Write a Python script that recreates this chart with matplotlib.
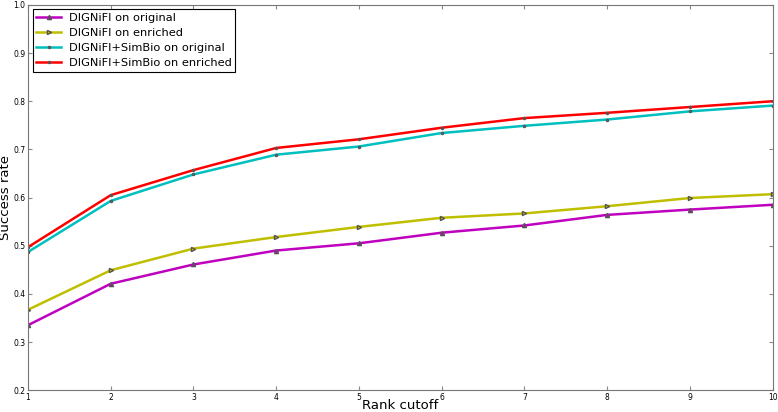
import matplotlib
matplotlib.use('Agg')
import matplotlib.pyplot as plt

# Rank cutoff values
ranks = [1, 2, 3, 4, 5, 6, 7, 8, 9, 10]

# success rates
dignifi_orig = [0.335, 0.421, 0.461, 0.490, 0.505, 0.527, 0.542, 0.564, 0.575, 0.585]
dignifi_enr = [0.367, 0.449, 0.494, 0.518, 0.539, 0.558, 0.567, 0.582, 0.599, 0.607]
simbio_orig = [0.487, 0.593, 0.648, 0.689, 0.706, 0.734, 0.749, 0.762, 0.779, 0.791]
simbio_enr = [0.497, 0.605, 0.657, 0.703, 0.721, 0.745, 0.765, 0.776, 0.788, 0.800]

labels = ['DIGNiFI on original', 'DIGNiFI on enriched',
          'DIGNiFI+SimBio on original', 'DIGNiFI+SimBio on enriched']

fig = plt.figure(figsize=(7.78, 4.12), dpi=100)
ax = fig.add_axes([0.036, 0.053, 0.957, 0.935])

ax.plot(ranks, dignifi_orig, color='m', lw=1.8, marker='^', ms=3, mec='#555555', label=labels[0])
ax.plot(ranks, dignifi_enr, color='y', lw=1.8, marker='>', ms=3, mec='#555555', label=labels[1])
ax.plot(ranks, simbio_orig, color='c', lw=1.8, marker='.', ms=3, mec='#555555', label=labels[2])
ax.plot(ranks, simbio_enr, color='r', lw=1.8, marker='.', ms=3, mec='#555555', label=labels[3])

ax.set_xlim(1, 10)
ax.set_ylim(0.2, 1.0)
ax.set_xticks(ranks)
ax.set_yticks([0.2, 0.3, 0.4, 0.5, 0.6, 0.7, 0.8, 0.9, 1.0])
ax.tick_params(direction='in', top=True, right=True, labelsize=5.5, length=3, color='#888888', pad=2)
for s in ax.spines.values():
    s.set_color('#777777')

ax.set_xlabel('Rank cutoff', fontsize=9.5, labelpad=-2)
ax.set_ylabel('Success rate', fontsize=9.5, labelpad=1)

leg = ax.legend(loc='upper left', fontsize=8.2, fancybox=False, framealpha=1,
                edgecolor='black', handlelength=2.2, borderaxespad=0.4,
                labelspacing=0.45, handletextpad=0.7, borderpad=0.3)
leg.get_frame().set_linewidth(0.8)

fig.savefig('out.png', dpi=100, facecolor='white')
